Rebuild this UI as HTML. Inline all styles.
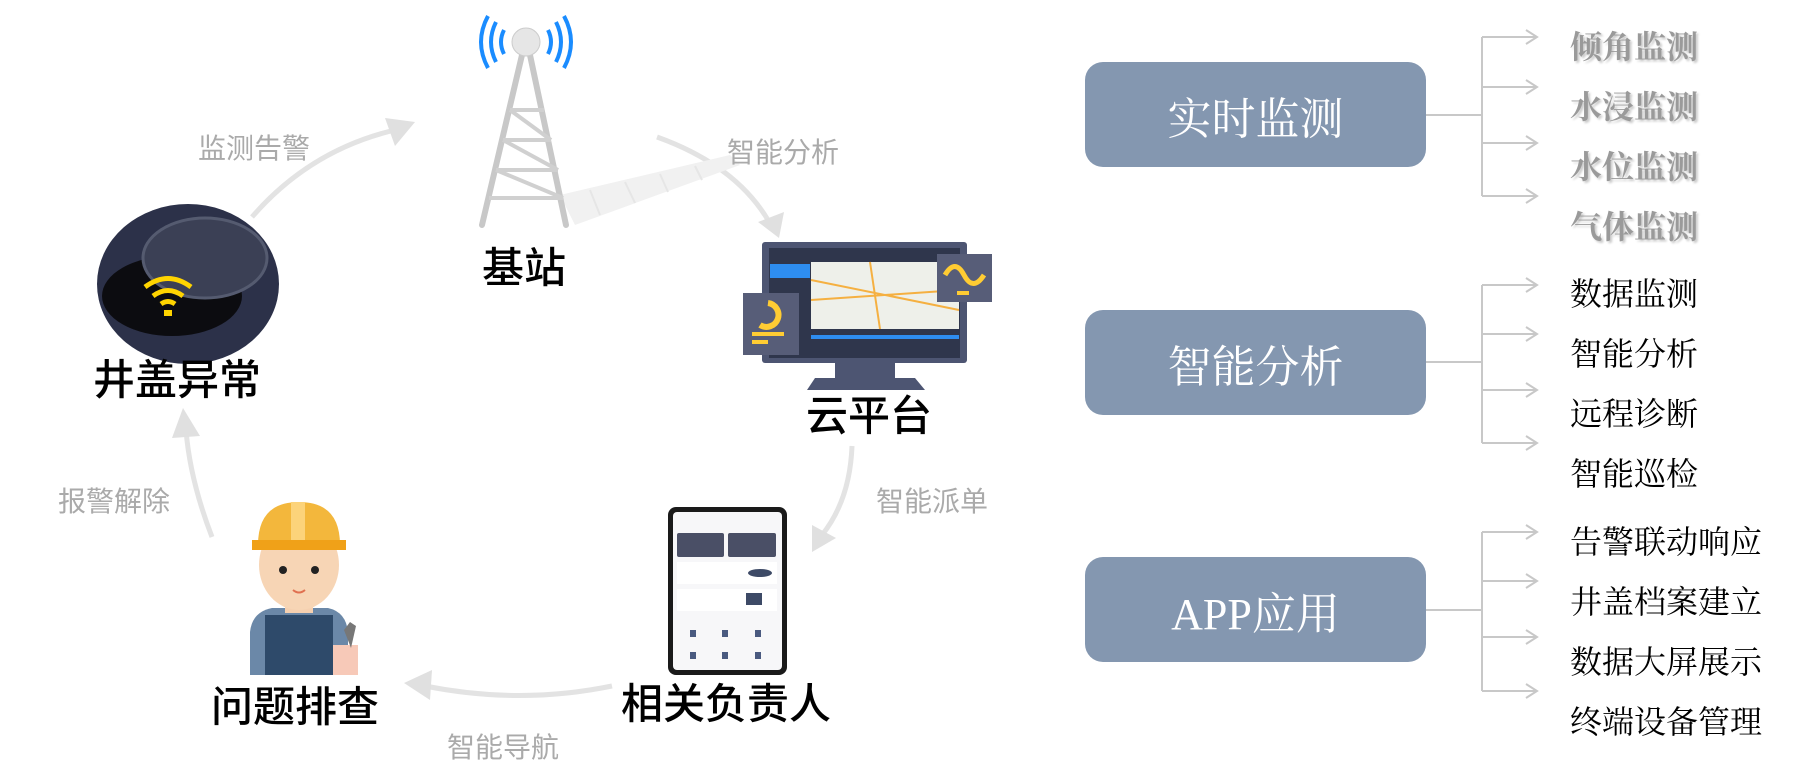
<!DOCTYPE html>
<html><head><meta charset="utf-8"><style>
body{margin:0;width:1793px;height:779px;background:#fff;overflow:hidden;position:relative;font-family:"Liberation Sans","Noto Sans CJK SC",sans-serif}
.t{position:absolute;white-space:nowrap;transform:translate(-50%,-50%)}
.blk{font-size:42px;color:#000;font-weight:500}
.gry{font-size:28px;color:#aaa}
.box{position:absolute;left:1085px;width:341px;height:105px;background:#8497b0;border-radius:18px;color:#fff;font-family:"Liberation Serif","Noto Serif CJK SC",serif;font-size:44px;display:flex;align-items:center;justify-content:center}
.lab{position:absolute;left:1570px;font-family:"Liberation Serif","Noto Serif CJK SC",serif;font-size:32px;color:#000;transform:translateY(-50%);white-space:nowrap}
.g1{color:#9a9a9a;font-weight:bold;text-shadow:2px 2px 2px #ccc}
</style></head><body>
<svg width="1793" height="779" style="position:absolute;left:0;top:0">
<!-- cycle arcs -->
<g fill="none" stroke="#e3e3e3" stroke-width="5">
<path d="M252 217 Q310 150 395 130"/>
<path d="M657 137 Q735 165 768 220"/>
<path d="M852 446 Q850 500 822 535"/>
<path d="M612 686 Q520 705 425 686"/>
<path d="M212 537 Q190 480 186 430"/>
</g>
<g fill="#e0e0e0">
<polygon points="415,122 385,118 395,146"/>
<polygon points="779,238 758,222 784,212"/>
<polygon points="812,552 812,525 836,538"/>
<polygon points="404,683 432,670 430,700"/>
<polygon points="183,408 172,438 200,436"/>
</g>
<!-- tower shadow -->
<polygon points="560,195 730,155 740,165 575,225" fill="#f1f1f1"/>
<g stroke="#e6e6e6" stroke-width="2"><line x1="590" y1="190" x2="600" y2="215"/><line x1="625" y1="182" x2="635" y2="203"/><line x1="660" y1="174" x2="668" y2="192"/><line x1="695" y1="166" x2="702" y2="180"/></g>
<!-- tower -->
<g stroke="#c8c8c8" stroke-width="6" fill="none" stroke-linecap="round">
<line x1="522" y1="55" x2="482" y2="225"/><line x1="530" y1="55" x2="566" y2="225"/>
</g>
<g stroke="#d0d0d0" stroke-width="4">
<line x1="510" y1="110" x2="544" y2="110"/><line x1="503" y1="140" x2="551" y2="140"/>
<line x1="496" y1="170" x2="558" y2="170"/><line x1="489" y1="198" x2="563" y2="198"/>
<line x1="510" y1="110" x2="551" y2="140"/><line x1="503" y1="140" x2="558" y2="170"/><line x1="496" y1="170" x2="563" y2="198"/>
</g>
<circle cx="526" cy="42" r="14" fill="#e6e6e6" stroke="#ccc"/>
<g fill="none" stroke="#1a8cff" stroke-width="4">
<path d="M504 30 Q498 42 504 54"/><path d="M496 22 Q486 42 496 62"/><path d="M488 16 Q474 42 488 68"/>
<path d="M548 30 Q554 42 548 54"/><path d="M556 22 Q566 42 556 62"/><path d="M564 16 Q578 42 564 68"/>
</g>
<!-- manhole -->
<ellipse cx="188" cy="284" rx="91" ry="80" fill="#2c3149"/>
<ellipse cx="172" cy="296" rx="70" ry="40" fill="#0c0c10"/>
<ellipse cx="205" cy="258" rx="62" ry="40" fill="#3b4055" stroke="#555b70" stroke-width="3"/>
<g fill="none" stroke="#ffd400" stroke-width="5">
<path d="M145 287 Q168 270 191 287"/><path d="M153 296 Q168 285 183 296"/><path d="M161 304 Q168 299 175 304"/>
</g>
<rect x="164" y="310" width="8" height="6" fill="#ffd400"/>
<!-- monitor -->
<rect x="762" y="242" width="205" height="121" rx="3" fill="#4d5572"/>
<rect x="769" y="248" width="191" height="110" fill="#2f364c"/>
<rect x="770" y="264" width="40" height="14" fill="#2e8df0"/>
<rect x="811" y="262" width="148" height="67" fill="#eef0ea"/>
<g stroke="#f5b041" stroke-width="2"><line x1="811" y1="300" x2="959" y2="290"/><line x1="870" y1="262" x2="880" y2="329"/><line x1="811" y1="280" x2="959" y2="310"/></g>
<rect x="811" y="335" width="148" height="4" fill="#2e8df0"/>
<rect x="835" y="363" width="60" height="15" fill="#4d5572"/>
<polygon points="815,378 915,378 925,390 807,390" fill="#4d5572"/>
<rect x="743" y="293" width="56" height="62" fill="#575d78"/>
<path d="M768 303 A12 12 0 1 1 760 325" fill="none" stroke="#ffcc33" stroke-width="6"/>
<rect x="752" y="332" width="32" height="4" fill="#ffcc33"/><rect x="752" y="340" width="16" height="4" fill="#ffcc33"/>
<rect x="937" y="254" width="55" height="48" fill="#575d78"/>
<path d="M945 275 Q955 258 964 275 Q973 292 984 275" fill="none" stroke="#ffcc33" stroke-width="5"/>
<rect x="957" y="291" width="12" height="4" fill="#ffcc33"/>
<!-- phone -->
<rect x="668" y="507" width="119" height="168" rx="8" fill="#1a1a1a"/>
<rect x="673" y="512" width="109" height="158" rx="4" fill="#f7f7f9"/>
<rect x="677" y="533" width="47" height="24" rx="2" fill="#4a4f66"/><rect x="728" y="533" width="48" height="24" rx="2" fill="#4a4f66"/>
<rect x="677" y="562" width="100" height="22" fill="#fff"/><ellipse cx="760" cy="573" rx="12" ry="4" fill="#3d4a66"/>
<rect x="677" y="589" width="100" height="22" fill="#fff"/><rect x="746" y="593" width="16" height="12" fill="#3d4a66"/>
<g fill="#4a5a80"><rect x="690" y="630" width="6" height="7"/><rect x="722" y="630" width="6" height="7"/><rect x="755" y="630" width="6" height="7"/><rect x="690" y="652" width="6" height="7"/><rect x="722" y="652" width="6" height="7"/><rect x="755" y="652" width="6" height="7"/></g>
<!-- worker -->
<path d="M250 675 L250 632 Q252 612 272 608 L328 608 Q346 612 348 632 L348 675 Z" fill="#6b88a8"/>
<rect x="265" y="615" width="68" height="60" fill="#2e4a6a"/>
<rect x="333" y="645" width="25" height="30" fill="#f7c9b8"/>
<path d="M344 630 l6 -8 l6 4 l-5 22 z" fill="#777"/>
<rect x="285" y="595" width="28" height="18" fill="#f5d0b0"/>
<ellipse cx="299" cy="565" rx="40" ry="45" fill="#f7d5b5"/>
<path d="M258 545 Q258 502 299 502 Q340 502 340 545 Z" fill="#f3b73c"/>
<rect x="291" y="502" width="14" height="43" fill="#fcd37a"/>
<rect x="252" y="540" width="94" height="10" fill="#f0a118"/>
<circle cx="283" cy="570" r="4" fill="#222"/><circle cx="315" cy="570" r="4" fill="#222"/>
<path d="M293 590 Q299 595 305 590" stroke="#e07050" stroke-width="2" fill="none"/>
<!-- right connectors -->
<g fill="none" stroke="#c8c8c8" stroke-width="2">
<path d="M1426 115 H1482 M1482 37 V196 M1482 37 H1536 M1482 87 H1536 M1482 143 H1536 M1482 196 H1536"/>
<path d="M1426 362 H1482 M1482 285 V443 M1482 285 H1536 M1482 334 H1536 M1482 390 H1536 M1482 443 H1536"/>
<path d="M1426 610 H1482 M1482 532 V691 M1482 532 H1536 M1482 581 H1536 M1482 637 H1536 M1482 691 H1536"/>
<path d="M1526 30 L1537 37 L1526 44 M1526 80 L1537 87 L1526 94 M1526 136 L1537 143 L1526 150 M1526 189 L1537 196 L1526 203"/>
<path d="M1526 278 L1537 285 L1526 292 M1526 327 L1537 334 L1526 341 M1526 383 L1537 390 L1526 397 M1526 436 L1537 443 L1526 450"/>
<path d="M1526 525 L1537 532 L1526 539 M1526 574 L1537 581 L1526 588 M1526 630 L1537 637 L1526 644 M1526 684 L1537 691 L1526 698"/>
</g>
</svg>
<div class="t blk" style="left:524px;top:265px">基站</div>
<div class="t blk" style="left:177px;top:377px">井盖异常</div>
<div class="t blk" style="left:869px;top:413px">云平台</div>
<div class="t blk" style="left:726px;top:701px">相关负责人</div>
<div class="t blk" style="left:295px;top:704px">问题排查</div>
<div class="t gry" style="left:254px;top:147px">监测告警</div>
<div class="t gry" style="left:783px;top:151px">智能分析</div>
<div class="t gry" style="left:932px;top:500px">智能派单</div>
<div class="t gry" style="left:114px;top:500px">报警解除</div>
<div class="t gry" style="left:503px;top:746px">智能导航</div>
<div class="box" style="top:62px">实时监测</div>
<div class="box" style="top:310px">智能分析</div>
<div class="box" style="top:557px">APP应用</div>
<div class="lab g1" style="top:45px">倾角监测</div>
<div class="lab g1" style="top:105px">水浸监测</div>
<div class="lab g1" style="top:165px">水位监测</div>
<div class="lab g1" style="top:225px">气体监测</div>
<div class="lab" style="top:292px">数据监测</div>
<div class="lab" style="top:352px">智能分析</div>
<div class="lab" style="top:412px">远程诊断</div>
<div class="lab" style="top:472px">智能巡检</div>
<div class="lab" style="top:540px">告警联动响应</div>
<div class="lab" style="top:600px">井盖档案建立</div>
<div class="lab" style="top:660px">数据大屏展示</div>
<div class="lab" style="top:720px">终端设备管理</div>
</body></html>
